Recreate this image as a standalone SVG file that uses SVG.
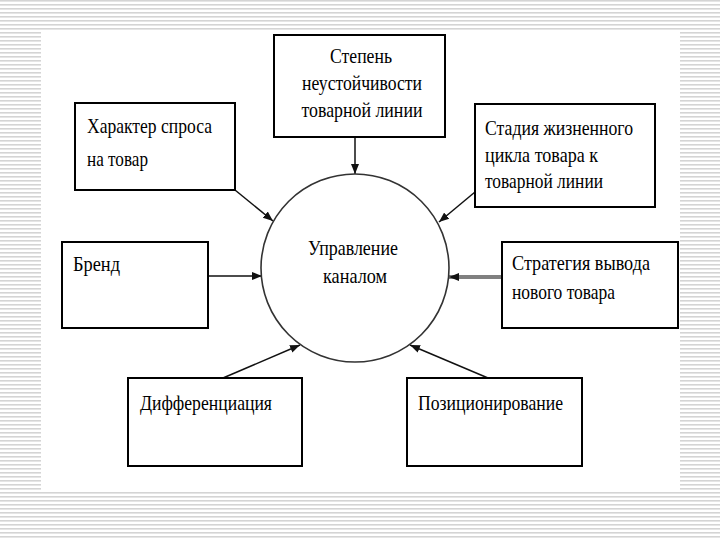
<svg xmlns="http://www.w3.org/2000/svg" width="720" height="540" viewBox="0 0 720 540">
  <defs>
    <pattern id="stripes" patternUnits="userSpaceOnUse" width="8" height="4">
      <rect x="0" y="0" width="8" height="4" fill="#ffffff"/>
      <rect x="0" y="0" width="8" height="1.6" fill="#d4d4d4"/>
    </pattern>
    <marker id="arr" markerUnits="userSpaceOnUse" markerWidth="12" markerHeight="10" refX="10" refY="5" orient="auto">
      <path d="M0,1 L10,5 L0,9 Z" fill="#111"/>
    </marker>
  </defs>
  <style>
    .box { fill: #ffffff; stroke: #000000; stroke-width: 2; }
    .t { font-family: "Liberation Serif", "DejaVu Serif", serif; font-size: 22px; fill: #000000; }
    .c { text-anchor: middle; }
    .conn { stroke: #111111; stroke-width: 1.5; fill: none; marker-end: url(#arr); }
    .thick { stroke: #808080; stroke-width: 4; }
  </style>

  <rect x="0" y="0" width="720" height="540" fill="url(#stripes)"/>
  <rect x="41" y="31" width="639" height="461" fill="#ffffff"/>

  <g id="connectors">
    <line class="conn" x1="355" y1="137" x2="355" y2="174"/>
    <line class="conn" x1="235" y1="190" x2="273" y2="221"/>
    <line class="conn" x1="475" y1="192" x2="439" y2="222"/>
    <line class="conn" x1="208" y1="276" x2="262" y2="276"/>
    <line class="conn thick" x1="502" y1="277" x2="449" y2="277"/>
    <line class="conn" x1="223" y1="378" x2="300" y2="345"/>
    <line class="conn" x1="488" y1="378" x2="410" y2="345"/>
  </g>

  <g id="center">
    <circle cx="355" cy="268" r="94" fill="#ffffff" stroke="#333333" stroke-width="1.6"/>
    <text class="t c" x="353" y="255" textLength="90" lengthAdjust="spacingAndGlyphs">Управление</text>
    <text class="t c" x="355" y="283" textLength="64" lengthAdjust="spacingAndGlyphs">каналом</text>
  </g>

  <g id="node-stepen">
    <rect class="box" x="274" y="35" width="171" height="102"/>
    <text class="t c" x="361" y="63" textLength="62" lengthAdjust="spacingAndGlyphs">Степень</text>
    <text class="t c" x="362" y="90" textLength="120" lengthAdjust="spacingAndGlyphs">неустойчивости</text>
    <text class="t c" x="362" y="117" textLength="121" lengthAdjust="spacingAndGlyphs">товарной линии</text>
  </g>

  <g id="node-harakter">
    <rect class="box" x="75" y="103" width="160" height="87"/>
    <text class="t" x="87" y="133" textLength="125" lengthAdjust="spacingAndGlyphs">Характер спроса</text>
    <text class="t" x="87" y="166" textLength="61" lengthAdjust="spacingAndGlyphs">на товар</text>
  </g>

  <g id="node-stadiya">
    <rect class="box" x="475" y="104" width="180" height="103"/>
    <text class="t" x="485" y="135" textLength="148" lengthAdjust="spacingAndGlyphs">Стадия жизненного</text>
    <text class="t" x="485" y="162" textLength="113" lengthAdjust="spacingAndGlyphs">цикла товара к</text>
    <text class="t" x="485" y="188" textLength="118" lengthAdjust="spacingAndGlyphs">товарной линии</text>
  </g>

  <g id="node-brend">
    <rect class="box" x="62" y="242" width="146" height="86"/>
    <text class="t" x="73" y="271" textLength="47" lengthAdjust="spacingAndGlyphs">Бренд</text>
  </g>

  <g id="node-strategiya">
    <rect class="box" x="502" y="242" width="176" height="86"/>
    <text class="t" x="512" y="270" textLength="138" lengthAdjust="spacingAndGlyphs">Стратегия вывода</text>
    <text class="t" x="512" y="299" textLength="103" lengthAdjust="spacingAndGlyphs">нового товара</text>
  </g>

  <g id="node-differenciaciya">
    <rect class="box" x="128" y="378" width="174" height="88"/>
    <text class="t" x="140" y="410" textLength="132" lengthAdjust="spacingAndGlyphs">Дифференциация</text>
  </g>

  <g id="node-pozicionirovanie">
    <rect class="box" x="407" y="378" width="175" height="88"/>
    <text class="t" x="418" y="410" textLength="145" lengthAdjust="spacingAndGlyphs">Позиционирование</text>
  </g>
</svg>
